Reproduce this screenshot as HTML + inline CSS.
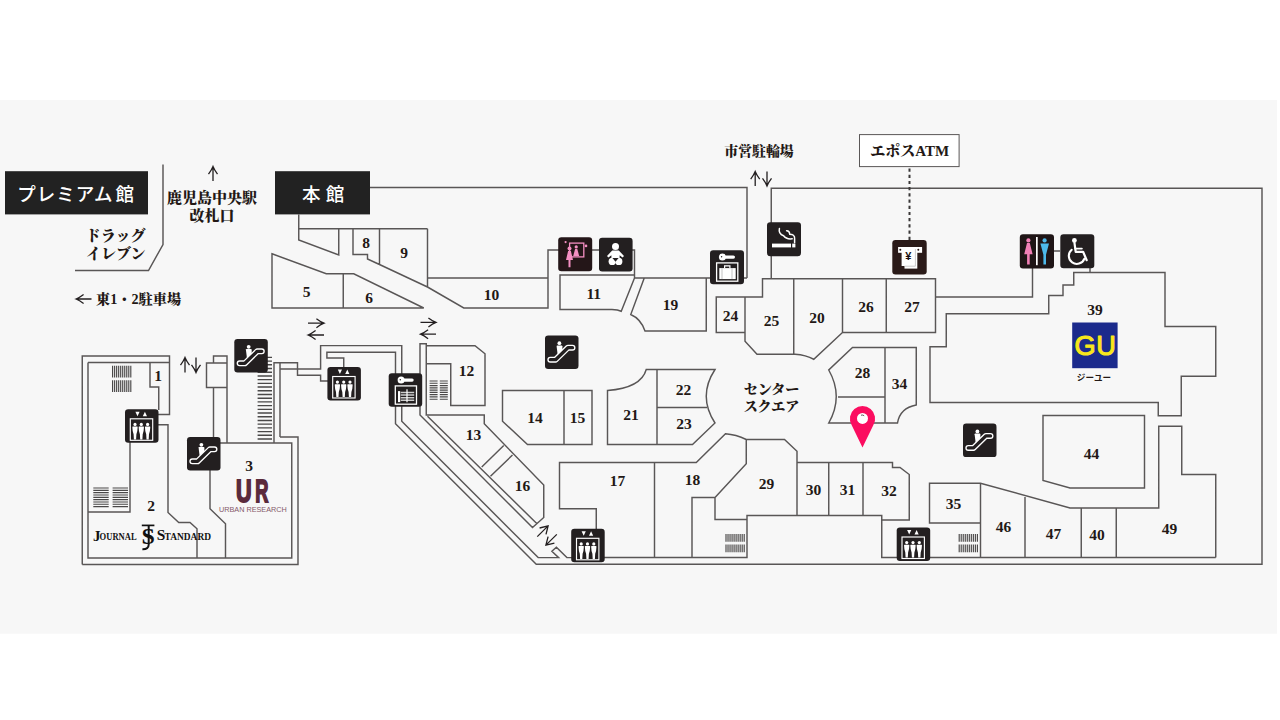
<!DOCTYPE html>
<html lang="ja"><head><meta charset="utf-8"><title>フロアマップ</title>
<style>html,body{margin:0;padding:0;background:#fff}body{width:1280px;height:720px;overflow:hidden;position:relative}</style>
</head><body>
<svg width="1280" height="720" viewBox="0 0 1280 720" style="position:absolute;left:0;top:0">
<rect x="0" y="100" width="1277" height="533.7" fill="#f7f7f7"/>
<path d="M163,164.5 V244.5 L148.5,270.5 H75 M370,187.5 H747 V278 M298.75,214.5 V240 L338.75,255 V228.75 M298.75,228.75 H427.5 M353,228.75 V254.5 H367.5 V259 L379.5,264.5 V228.75 M379.5,264.5 L427.5,287 V228.75 M427.5,278 H548 M427.5,287 L463.75,308 H548 V250 H634.5 V278 H747 M272,253.75 L326.25,273.75 H353.75 L423.75,308 H272 Z M343.25,273.75 V308 M634.5,275 H560 V309.5 H612 Q618,309.7 621.25,311.25 L634.5,278 M644.25,278 L630.75,314.5 Q641,319 645,331 H706.25 V278 M716.25,297 H745 V332.5 H716.25 Z M745,297 H762.5 V278.75 H935.5 V332.5 H842.5 M745,332.5 V341.25 L757,354.25 H795 Q806,355 813.75,359.25 L842.5,332.5 V278.75 M793.75,278.75 V354.5 M886.25,278.75 V332.5 M771.25,278.75 V188.3 H1262 V564.25 H536.25 L395.5,423.75 V352.25 H326.9 V358 H343.75 V368 M935.5,297 H1032.5 V268 M1054,251 H1060 M1090,268 V272.5 M946.25,313.75 H1048.75 V295.5 H1063 V285 H1073.75 V272.5 H1165 V326.5 H1215.75 V376.25 H1181.25 V415.75 H1158.25 V402.5 H930 V346.75 H946.25 Z M852.5,347.5 H916.25 V405 Q900,408 897.5,423 H828.75 Q843.75,396.5 828.75,370 Z M885,347.5 V423 M838,397 H885 M1043,415.5 H1144.5 V488 H1070 L1043,480.5 Z M1215.75,557.5 V474.5 H1181.75 V426.25 H1158.75 V508 H1070 L980.5,483.25 H929.5 V523 H980.5 M980.5,483.25 V557.5 M881.75,520 V557.5 H1215.75 M1025,495.75 V557.5 M1081.25,508 V557.5 M1116.25,508 V557.5 M746.25,439.5 H784.5 L797,451.25 V515.5 M797,462.5 H892.5 V467.5 H900 L909.25,474.5 V520 H881.75 V515.5 H747 V557.5 H604 M828.75,462.5 V515.5 M863,462.5 V515.5 M715,497.5 V519.5 H747 M654.5,557.5 V462.5 H696.25 L725.5,433.75 Q736,434.5 746.25,439.5 V463.75 L715,497.5 H692 V557.5 M654.5,462.5 H559.5 V508.75 H596.25 V530 M646.25,369.5 H715 Q697.5,396.25 715,423 L692.5,444.5 H607.5 V390.5 Q641,388 646.25,369.5 Z M657,369.5 V444.5 M657,407.5 H707 M502.5,390.5 H592 V444.5 H527.5 L502.5,421.25 Z M564,390.5 V444.5 M426.25,345.75 H475 L485,353.75 V405.5 H450.75 V363.75 H426.25 M420,343.75 H426.25 V415 H484.25 V423.75 L543.75,485 V517.5 L532.5,527.5 L420,415 Z M427.5,416.25 L537,523.75 M503.75,445.5 L481.75,467 M512.5,455 L490.5,476.25 M274,443 V362.75 H297.5 V375.25 H320.6 V381 H328 M280,437 V369 H320.6 V345.6 H401.75 V421.25 L538.2,557.6 H558.6 L551.9,551.25 L556.4,547.3 L566.9,557.6 H572 M280,362.75 V369 M82.25,564.5 V356 H169.5 V414.5 H158 M88,362.5 H169.5 M82.25,564.5 H298 V437 H280 M88,362.5 V558 H291.75 V443 H220 M150,362.5 V387 H158.75 V410 M158,424.75 H168 V512.5 L178.75,522.5 H190 L197,528.75 V558 M130,442 V512 H88 M210,470 V508.75 L225.5,523.75 V558 M206.5,363 H227 V387.5 H206.5 Z M213.5,363 V356 H227 V363 M213.5,387.5 V438 M227,387.5 V443" fill="none" stroke="#595656" stroke-width="1.45" stroke-linejoin="miter"/>
<path d="M112.60,365.8 V377.6 M114.62,365.8 V377.6 M116.64,365.8 V377.6 M118.67,365.8 V377.6 M120.69,365.8 V377.6 M122.71,365.8 V377.6 M124.73,365.8 V377.6 M126.76,365.8 V377.6 M128.78,365.8 V377.6 M130.80,365.8 V377.6 M112.60,380.2 V392 M114.62,380.2 V392 M116.64,380.2 V392 M118.67,380.2 V392 M120.69,380.2 V392 M122.71,380.2 V392 M124.73,380.2 V392 M126.76,380.2 V392 M128.78,380.2 V392 M130.80,380.2 V392 M93.3,488.00 H108.7 M93.3,490.32 H108.7 M93.3,492.65 H108.7 M93.3,494.98 H108.7 M93.3,497.30 H108.7 M93.3,499.62 H108.7 M93.3,501.95 H108.7 M93.3,504.28 H108.7 M93.3,506.60 H108.7 M112.6,488.00 H128 M112.6,490.32 H128 M112.6,492.65 H128 M112.6,494.98 H128 M112.6,497.30 H128 M112.6,499.62 H128 M112.6,501.95 H128 M112.6,504.28 H128 M112.6,506.60 H128 M429.6,381.00 H437.6 M429.6,383.27 H437.6 M429.6,385.55 H437.6 M429.6,387.82 H437.6 M429.6,390.10 H437.6 M429.6,392.38 H437.6 M429.6,394.65 H437.6 M429.6,396.93 H437.6 M429.6,399.20 H437.6 M439.8,381.00 H447.8 M439.8,383.27 H447.8 M439.8,385.55 H447.8 M439.8,387.82 H447.8 M439.8,390.10 H447.8 M439.8,392.38 H447.8 M439.8,394.65 H447.8 M439.8,396.93 H447.8 M439.8,399.20 H447.8 M726.00,534 V541.8 M728.02,534 V541.8 M730.04,534 V541.8 M732.07,534 V541.8 M734.09,534 V541.8 M736.11,534 V541.8 M738.13,534 V541.8 M740.16,534 V541.8 M742.18,534 V541.8 M744.20,534 V541.8 M726.00,544.4 V552.2 M728.02,544.4 V552.2 M730.04,544.4 V552.2 M732.07,544.4 V552.2 M734.09,544.4 V552.2 M736.11,544.4 V552.2 M738.13,544.4 V552.2 M740.16,544.4 V552.2 M742.18,544.4 V552.2 M744.20,544.4 V552.2 M959.20,534 V541.8 M961.22,534 V541.8 M963.24,534 V541.8 M965.27,534 V541.8 M967.29,534 V541.8 M969.31,534 V541.8 M971.33,534 V541.8 M973.36,534 V541.8 M975.38,534 V541.8 M977.40,534 V541.8 M959.20,544.4 V552.2 M961.22,544.4 V552.2 M963.24,544.4 V552.2 M965.27,544.4 V552.2 M967.29,544.4 V552.2 M969.31,544.4 V552.2 M971.33,544.4 V552.2 M973.36,544.4 V552.2 M975.38,544.4 V552.2 M977.40,544.4 V552.2" fill="none" stroke="#4a4848" stroke-width="1.15"/>
<path d="M257.6,357.40 H272 M257.6,361.11 H272 M257.6,364.82 H272 M257.6,368.53 H272 M257.6,372.24 H272 M257.6,375.95 H272 M257.6,379.65 H272 M257.6,383.36 H272 M257.6,387.07 H272 M257.6,390.78 H272 M257.6,394.49 H272 M257.6,398.20 H272 M257.6,401.91 H272 M257.6,405.62 H272 M257.6,409.33 H272 M257.6,413.04 H272 M257.6,416.75 H272 M257.6,420.45 H272 M257.6,424.16 H272 M257.6,427.87 H272 M257.6,431.58 H272 M257.6,435.29 H272 M257.6,439.00 H272" fill="none" stroke="#4a4848" stroke-width="1.4"/>
<path d="M909.5,168.5 V240" stroke="#3a3838" stroke-width="2" stroke-dasharray="3.2,3" fill="none"/>
<rect x="859.5" y="134.6" width="99.6" height="32" fill="#fff" stroke="#5a5757" stroke-width="1"/>
<g fill="none" stroke="#231f20" stroke-width="1.3"><path d="M213,181 V166.5 M208.5,174.1 Q211.65,169.92 213,166.5 Q214.35,169.92 217.5,174.1" /><path d="M91.5,299 H76 M83.6,294.5 Q79.42,297.65 76,299 Q79.42,300.35 83.6,303.5" /><path d="M755.2,186 V171.5 M750.7,179.1 Q753.85,174.92 755.2,171.5 Q756.5500000000001,174.92 759.7,179.1" /><path d="M767,171.5 V186 M762.5,178.4 Q765.65,182.58 767,186 Q768.35,182.58 771.5,178.4" /><path d="M185,372.5 V357.5 M180.5,365.1 Q183.65,360.92 185,357.5 Q186.35,360.92 189.5,365.1" /><path d="M196,357.5 V372.5 M191.5,364.9 Q194.65,369.08 196,372.5 Q197.35,369.08 200.5,364.9" /><path d="M308,323.2 H324 M316.4,318.7 Q320.58,321.84999999999997 324,323.2 Q320.58,324.55 316.4,327.7" /><path d="M324,335 H308 M315.6,330.5 Q311.42,333.65 308,335 Q311.42,336.35 315.6,339.5" /><path d="M420.5,322.4 H436 M428.4,317.9 Q432.58,321.04999999999995 436,322.4 Q432.58,323.75 428.4,326.9" /><path d="M436,334.2 H420.5 M428.1,329.7 Q423.92,332.84999999999997 420.5,334.2 Q423.92,335.55 428.1,338.7" /><path d="M537.3,536.6 L548.1,525.9 M546.0,534.3 L548.1,525.9 L539.6,528.0"/><path d="M556.8,534.4 L545.9,545.1 M548.1,536.7 L545.9,545.1 L554.4,543.1"/></g>
<g transform="translate(234.3,339)"><rect width="33.5" height="33.5" rx="3.2" fill="#231f20"/><circle cx="14.4" cy="7.8" r="1.9" fill="#fff"/><path d="M11.6,10.6 Q11.6,10 12.3,10 H16.6 Q17.4,10 17.4,10.8 V14.6 L12.6,19 Z" fill="#fff"/><path d="M5.3,24.3 H10.6 L22.9,12.3 H27.5" fill="none" stroke="#fff" stroke-width="6" stroke-linecap="round" stroke-linejoin="round"/><path d="M5.3,24.3 H10.6 L22.9,12.3 H27.5" fill="none" stroke="#231f20" stroke-width="3.3" stroke-linecap="round" stroke-linejoin="round"/></g>
<g transform="translate(187,437)"><rect width="33.5" height="33.5" rx="3.2" fill="#231f20"/><circle cx="14.4" cy="7.8" r="1.9" fill="#fff"/><path d="M11.6,10.6 Q11.6,10 12.3,10 H16.6 Q17.4,10 17.4,10.8 V14.6 L12.6,19 Z" fill="#fff"/><path d="M5.3,24.3 H10.6 L22.9,12.3 H27.5" fill="none" stroke="#fff" stroke-width="6" stroke-linecap="round" stroke-linejoin="round"/><path d="M5.3,24.3 H10.6 L22.9,12.3 H27.5" fill="none" stroke="#231f20" stroke-width="3.3" stroke-linecap="round" stroke-linejoin="round"/></g>
<g transform="translate(545,335.4)"><rect width="33.5" height="33.5" rx="3.2" fill="#231f20"/><circle cx="14.4" cy="7.8" r="1.9" fill="#fff"/><path d="M11.6,10.6 Q11.6,10 12.3,10 H16.6 Q17.4,10 17.4,10.8 V14.6 L12.6,19 Z" fill="#fff"/><path d="M5.3,24.3 H10.6 L22.9,12.3 H27.5" fill="none" stroke="#fff" stroke-width="6" stroke-linecap="round" stroke-linejoin="round"/><path d="M5.3,24.3 H10.6 L22.9,12.3 H27.5" fill="none" stroke="#231f20" stroke-width="3.3" stroke-linecap="round" stroke-linejoin="round"/></g>
<g transform="translate(963,423.6)"><rect width="33.5" height="33.5" rx="3.2" fill="#231f20"/><circle cx="14.4" cy="7.8" r="1.9" fill="#fff"/><path d="M11.6,10.6 Q11.6,10 12.3,10 H16.6 Q17.4,10 17.4,10.8 V14.6 L12.6,19 Z" fill="#fff"/><path d="M5.3,24.3 H10.6 L22.9,12.3 H27.5" fill="none" stroke="#fff" stroke-width="6" stroke-linecap="round" stroke-linejoin="round"/><path d="M5.3,24.3 H10.6 L22.9,12.3 H27.5" fill="none" stroke="#231f20" stroke-width="3.3" stroke-linecap="round" stroke-linejoin="round"/></g>
<g transform="translate(125,409.2)"><rect width="33.5" height="33.5" rx="3.2" fill="#231f20"/><path d="M10.4,2.6 H14.6 L12.5,7 Z M17.8,7 H22 L19.9,2.6 Z" fill="#fff"/><rect x="5.3" y="9.6" width="22.4" height="21.5" fill="none" stroke="#fff" stroke-width="1.15"/><circle cx="10" cy="15.2" r="1.6" fill="#fff"/><path d="M7.9,17.4 H12.1 Q12.9,17.4 12.6,18.6 Q12.6,22 11.4,25 L11.1,30.2 H8.9 L8.6,25 Q7.4,22 7.4,18.6 Q7.1,17.4 7.9,17.4 Z" fill="#fff"/><circle cx="16.3" cy="15.2" r="1.6" fill="#fff"/><path d="M14.200000000000001,17.4 H18.400000000000002 Q19.2,17.4 18.900000000000002,18.6 Q18.900000000000002,22 17.7,25 L17.400000000000002,30.2 H15.200000000000001 L14.9,25 Q13.700000000000001,22 13.700000000000001,18.6 Q13.4,17.4 14.200000000000001,17.4 Z" fill="#fff"/><circle cx="22.6" cy="15.2" r="1.6" fill="#fff"/><path d="M20.5,17.4 H24.700000000000003 Q25.5,17.4 25.200000000000003,18.6 Q25.200000000000003,22 24.0,25 L23.700000000000003,30.2 H21.5 L21.200000000000003,25 Q20.0,22 20.0,18.6 Q19.700000000000003,17.4 20.5,17.4 Z" fill="#fff"/></g>
<g transform="translate(327.4,366.9)"><rect width="33.5" height="33.5" rx="3.2" fill="#231f20"/><path d="M10.4,2.6 H14.6 L12.5,7 Z M17.8,7 H22 L19.9,2.6 Z" fill="#fff"/><rect x="5.3" y="9.6" width="22.4" height="21.5" fill="none" stroke="#fff" stroke-width="1.15"/><circle cx="10" cy="15.2" r="1.6" fill="#fff"/><path d="M7.9,17.4 H12.1 Q12.9,17.4 12.6,18.6 Q12.6,22 11.4,25 L11.1,30.2 H8.9 L8.6,25 Q7.4,22 7.4,18.6 Q7.1,17.4 7.9,17.4 Z" fill="#fff"/><circle cx="16.3" cy="15.2" r="1.6" fill="#fff"/><path d="M14.200000000000001,17.4 H18.400000000000002 Q19.2,17.4 18.900000000000002,18.6 Q18.900000000000002,22 17.7,25 L17.400000000000002,30.2 H15.200000000000001 L14.9,25 Q13.700000000000001,22 13.700000000000001,18.6 Q13.4,17.4 14.200000000000001,17.4 Z" fill="#fff"/><circle cx="22.6" cy="15.2" r="1.6" fill="#fff"/><path d="M20.5,17.4 H24.700000000000003 Q25.5,17.4 25.200000000000003,18.6 Q25.200000000000003,22 24.0,25 L23.700000000000003,30.2 H21.5 L21.200000000000003,25 Q20.0,22 20.0,18.6 Q19.700000000000003,17.4 20.5,17.4 Z" fill="#fff"/></g>
<g transform="translate(571.2,528.7)"><rect width="33.5" height="33.5" rx="3.2" fill="#231f20"/><path d="M10.4,2.6 H14.6 L12.5,7 Z M17.8,7 H22 L19.9,2.6 Z" fill="#fff"/><rect x="5.3" y="9.6" width="22.4" height="21.5" fill="none" stroke="#fff" stroke-width="1.15"/><circle cx="10" cy="15.2" r="1.6" fill="#fff"/><path d="M7.9,17.4 H12.1 Q12.9,17.4 12.6,18.6 Q12.6,22 11.4,25 L11.1,30.2 H8.9 L8.6,25 Q7.4,22 7.4,18.6 Q7.1,17.4 7.9,17.4 Z" fill="#fff"/><circle cx="16.3" cy="15.2" r="1.6" fill="#fff"/><path d="M14.200000000000001,17.4 H18.400000000000002 Q19.2,17.4 18.900000000000002,18.6 Q18.900000000000002,22 17.7,25 L17.400000000000002,30.2 H15.200000000000001 L14.9,25 Q13.700000000000001,22 13.700000000000001,18.6 Q13.4,17.4 14.200000000000001,17.4 Z" fill="#fff"/><circle cx="22.6" cy="15.2" r="1.6" fill="#fff"/><path d="M20.5,17.4 H24.700000000000003 Q25.5,17.4 25.200000000000003,18.6 Q25.200000000000003,22 24.0,25 L23.700000000000003,30.2 H21.5 L21.200000000000003,25 Q20.0,22 20.0,18.6 Q19.700000000000003,17.4 20.5,17.4 Z" fill="#fff"/></g>
<g transform="translate(896.7,527.4)"><rect width="33.5" height="33.5" rx="3.2" fill="#231f20"/><path d="M10.4,2.6 H14.6 L12.5,7 Z M17.8,7 H22 L19.9,2.6 Z" fill="#fff"/><rect x="5.3" y="9.6" width="22.4" height="21.5" fill="none" stroke="#fff" stroke-width="1.15"/><circle cx="10" cy="15.2" r="1.6" fill="#fff"/><path d="M7.9,17.4 H12.1 Q12.9,17.4 12.6,18.6 Q12.6,22 11.4,25 L11.1,30.2 H8.9 L8.6,25 Q7.4,22 7.4,18.6 Q7.1,17.4 7.9,17.4 Z" fill="#fff"/><circle cx="16.3" cy="15.2" r="1.6" fill="#fff"/><path d="M14.200000000000001,17.4 H18.400000000000002 Q19.2,17.4 18.900000000000002,18.6 Q18.900000000000002,22 17.7,25 L17.400000000000002,30.2 H15.200000000000001 L14.9,25 Q13.700000000000001,22 13.700000000000001,18.6 Q13.4,17.4 14.200000000000001,17.4 Z" fill="#fff"/><circle cx="22.6" cy="15.2" r="1.6" fill="#fff"/><path d="M20.5,17.4 H24.700000000000003 Q25.5,17.4 25.200000000000003,18.6 Q25.200000000000003,22 24.0,25 L23.700000000000003,30.2 H21.5 L21.200000000000003,25 Q20.0,22 20.0,18.6 Q19.700000000000003,17.4 20.5,17.4 Z" fill="#fff"/></g>
<g transform="translate(388.7,373.3)"><rect width="33.5" height="33.5" rx="3.2" fill="#231f20"/><circle cx="12.4" cy="6.8" r="3.5" fill="#fff"/><rect x="14" y="5.2" width="11" height="3.2" rx="1.6" fill="#fff"/><circle cx="11.6" cy="6.4" r="0.7" fill="#231f20"/><rect x="6.6" y="12.6" width="21.2" height="18.3" fill="none" stroke="#fff" stroke-width="1.3"/><rect x="9.3" y="17.8" width="2.2" height="11" fill="#fff"/><path d="M12,19.2 H25.5 M12,21.8 H25.5 M12,24.4 H25.5 M12,27 H25.5" stroke="#ccc" stroke-width="1.5"/><path d="M18.3,16 V29" stroke="#fff" stroke-width="1.2"/></g>
<g transform="translate(710,250.3)"><rect width="34" height="34" rx="3.2" fill="#231f20"/><circle cx="12.4" cy="6.8" r="3.5" fill="#fff"/><rect x="14" y="5.2" width="11" height="3.2" rx="1.6" fill="#fff"/><circle cx="11.6" cy="6.4" r="0.7" fill="#231f20"/><rect x="6.6" y="12.6" width="21.2" height="18.3" fill="none" stroke="#fff" stroke-width="1.3"/><rect x="9.3" y="17.8" width="16.4" height="11" fill="#fff"/><path d="M14.6,17.8 V15.6 H19.9 V17.8" fill="none" stroke="#fff" stroke-width="1.2"/><path d="M12,17.8 V28.8 M22,17.8 V28.8" stroke="#aaa" stroke-width="0.7"/></g>
<g transform="translate(767,222.2)"><rect width="34" height="34" rx="3.2" fill="#231f20"/><rect x="5" y="21.4" width="19" height="3.8" fill="#fff"/><rect x="25.2" y="21.4" width="3.2" height="3.8" fill="#fff"/><path d="M12.4,6.4 C11.6,10 14,12.6 16.6,13.6 C18.6,16.4 22,17 25.2,16.6" fill="none" stroke="#fff" stroke-width="1.5" stroke-linecap="round"/><path d="M19.6,8.6 C22,8.4 22.6,10.6 22.8,12 C25.6,12 28,13.4 27.6,16.4 V20.6" fill="none" stroke="#fff" stroke-width="1.5" stroke-linecap="round"/></g>
<g transform="translate(892.3,240)"><rect width="34.4" height="34.4" rx="3.2" fill="#2a1a18"/><rect x="5.8" y="7" width="24" height="5.8" fill="#fff"/><rect x="12.2" y="12" width="12.8" height="16.6" fill="#fff"/><rect x="9.3" y="7" width="13.6" height="19" fill="#fff"/><path d="M23.1,9 V26.2 H12.2" fill="none" stroke="#aaa" stroke-width="0.6"/><circle cx="8" cy="9.8" r="1" fill="#2a1a18"/><circle cx="26" cy="9.8" r="1" fill="#2a1a18"/><text x="16.1" y="20.4" font-family="'Liberation Sans',sans-serif" font-weight="700" font-size="11" text-anchor="middle" fill="#1a1010">¥</text></g>
<g transform="translate(1019.8,234.2)"><rect width="34.2" height="34.2" rx="3.2" fill="#1f1516"/><circle cx="8.6" cy="6.2" r="2.1" fill="#f27fb6"/><path d="M7.2,8.8 H10 L12.8,20 H9.9 V30.2 H7.3 V20 H4.4 Z" fill="#f27fb6"/><rect x="16.2" y="2.8" width="1.7" height="28.2" fill="#fff"/><circle cx="24.8" cy="6.2" r="2.1" fill="#4db9ea"/><path d="M20.6,9.4 H29.2 L26.2,20.6 V30.2 H23.6 V20.6 Z" fill="#4db9ea"/></g>
<g transform="translate(1060.3,234.2)"><rect width="34" height="34" rx="3.2" fill="#231f20"/><circle cx="14.1" cy="6.3" r="2.4" fill="#fff"/><path d="M14.2,9 L15.4,17.6 H22.8 L26.4,26" fill="none" stroke="#fff" stroke-width="2.2" stroke-linejoin="round" stroke-linecap="round"/><path d="M15,14.4 H21.6" stroke="#fff" stroke-width="1.8" stroke-linecap="round"/><path d="M11.4,15.6 A8,8 0 1 0 24,24.6" fill="none" stroke="#fff" stroke-width="2.1" stroke-linecap="round"/></g>
<g transform="translate(558.2,237.3)"><rect width="34" height="34" rx="3.2" fill="#241618"/><rect x="11.4" y="5.8" width="14.2" height="13.8" fill="none" stroke="#f48fc2" stroke-width="1.3"/><circle cx="18" cy="9.6" r="1.6" fill="#f48fc2"/><path d="M16.9,11.6 H19.1 L21,18.8 H15 Z" fill="#f48fc2"/><rect x="8" y="6" width="7" height="18" fill="#241618" opacity="0"/><circle cx="11.3" cy="11.3" r="2" fill="#f48fc2"/><path d="M9.9,13.7 H12.7 L14.8,22.8 H12.3 V30 H10.3 V22.8 H7.8 Z" fill="#f48fc2"/><circle cx="7.4" cy="4.8" r="1.1" fill="#f48fc2"/><circle cx="27.8" cy="8.6" r="1.3" fill="#f48fc2"/></g>
<g transform="translate(599,237.8)"><rect width="33.6" height="33.6" rx="3.2" fill="#231f20"/><circle cx="16.5" cy="8.6" r="3.5" fill="#fff"/><path d="M13.2,12.8 H19.8 L25,18.2 L23.6,19.6 L20.6,17.4 V20.4 H12.4 V17.4 L9.4,19.6 L8,18.2 Z" fill="#fff"/><circle cx="13.2" cy="23.6" r="3.6" fill="#fff"/><circle cx="19.8" cy="23.6" r="3.6" fill="#fff"/><path d="M13.4,20.2 H19.6 L16.5,24 Z" fill="#231f20"/></g>
<path d="M862.5,447.4 L851.6,425 A12.6,12.6 0 1 1 873.4,425 Z" fill="#fb0d60"/><circle cx="862.5" cy="418.4" r="5.5" fill="#fff"/><path d="M861,415.2 q2,-0.6 3.2,0.6" stroke="#333" stroke-width="0.8" fill="none"/>
<rect x="1072.2" y="322.5" width="45.4" height="45.7" fill="#1b2a8c"/><text x="1074.6" y="355.4" font-family="'Liberation Sans',sans-serif" font-weight="400" font-size="27.2" fill="#f8e71c" stroke="#f8e71c" stroke-width="1.1" stroke-linejoin="round" letter-spacing="0.4">GU</text>
<text x="1094" y="380.8" font-family="'Liberation Sans','Noto Sans CJK JP',sans-serif" font-weight="700" font-size="8.6" text-anchor="middle" fill="#231815">ジーユー</text>
<rect x="5" y="171.2" width="143" height="43.2" fill="#222"/><text x="17.2" y="201.2" font-family="'Liberation Sans','Noto Sans CJK JP',sans-serif" font-weight="500" font-size="18.5" fill="#fff" letter-spacing="1">プレミアム<tspan dx="2.2">館</tspan></text>
<rect x="275" y="171.2" width="95" height="43.2" fill="#222"/><text x="302" y="201.2" font-family="'Liberation Sans','Noto Sans CJK JP',sans-serif" font-weight="500" font-size="18.5" fill="#fff">本<tspan dx="5.3">館</tspan></text>
<text x="115.7" y="240.6" font-family="'Liberation Serif','Noto Serif CJK SC',serif" font-weight="900" fill="#231815" font-size="15" text-anchor="middle" >ドラッグ</text>
<text x="115.7" y="258.8" font-family="'Liberation Serif','Noto Serif CJK SC',serif" font-weight="900" fill="#231815" font-size="15" text-anchor="middle" >イレブン</text>
<text x="212" y="202.6" font-family="'Liberation Serif','Noto Serif CJK SC',serif" font-weight="900" fill="#231815" font-size="15" text-anchor="middle" >鹿児島中央駅</text>
<text x="212" y="221.2" font-family="'Liberation Serif','Noto Serif CJK SC',serif" font-weight="900" fill="#231815" font-size="15" text-anchor="middle" >改札口</text>
<text x="96" y="304" font-family="'Liberation Serif','Noto Serif CJK SC',serif" font-weight="900" fill="#231815" font-size="14.2" text-anchor="start" >東1・2駐車場</text>
<text x="759" y="155.6" font-family="'Liberation Serif','Noto Serif CJK SC',serif" font-weight="900" fill="#231815" font-size="13.9" text-anchor="middle" >市営駐輪場</text>
<text x="909.8" y="156.2" font-family="'Liberation Serif','Noto Serif CJK SC',serif" font-weight="900" fill="#231815" font-size="15" text-anchor="middle" >エポスATM</text>
<text x="771.5" y="394" font-family="'Liberation Serif','Noto Serif CJK SC',serif" font-weight="900" fill="#231815" font-size="14" text-anchor="middle" >センター</text>
<text x="771.5" y="410.6" font-family="'Liberation Serif','Noto Serif CJK SC',serif" font-weight="900" fill="#231815" font-size="14" text-anchor="middle" >スクエア</text>
<text x="158" y="380.7" font-family="'Liberation Serif',serif" font-weight="700" font-size="15.5" text-anchor="middle" fill="#231815">1</text>
<text x="151" y="510.7" font-family="'Liberation Serif',serif" font-weight="700" font-size="15.5" text-anchor="middle" fill="#231815">2</text>
<text x="249" y="471.2" font-family="'Liberation Serif',serif" font-weight="700" font-size="15.5" text-anchor="middle" fill="#231815">3</text>
<text x="306.5" y="297.2" font-family="'Liberation Serif',serif" font-weight="700" font-size="15.5" text-anchor="middle" fill="#231815">5</text>
<text x="369" y="302.7" font-family="'Liberation Serif',serif" font-weight="700" font-size="15.5" text-anchor="middle" fill="#231815">6</text>
<text x="366" y="248.2" font-family="'Liberation Serif',serif" font-weight="700" font-size="15.5" text-anchor="middle" fill="#231815">8</text>
<text x="404" y="257.7" font-family="'Liberation Serif',serif" font-weight="700" font-size="15.5" text-anchor="middle" fill="#231815">9</text>
<text x="491.5" y="300.2" font-family="'Liberation Serif',serif" font-weight="700" font-size="15.5" text-anchor="middle" fill="#231815">10</text>
<text x="593.75" y="299.2" font-family="'Liberation Serif',serif" font-weight="700" font-size="15.5" text-anchor="middle" fill="#231815">11</text>
<text x="670.5" y="310.2" font-family="'Liberation Serif',serif" font-weight="700" font-size="15.5" text-anchor="middle" fill="#231815">19</text>
<text x="730.5" y="321.2" font-family="'Liberation Serif',serif" font-weight="700" font-size="15.5" text-anchor="middle" fill="#231815">24</text>
<text x="771.5" y="326.2" font-family="'Liberation Serif',serif" font-weight="700" font-size="15.5" text-anchor="middle" fill="#231815">25</text>
<text x="817" y="323.2" font-family="'Liberation Serif',serif" font-weight="700" font-size="15.5" text-anchor="middle" fill="#231815">20</text>
<text x="683.5" y="395.2" font-family="'Liberation Serif',serif" font-weight="700" font-size="15.5" text-anchor="middle" fill="#231815">22</text>
<text x="631" y="420.2" font-family="'Liberation Serif',serif" font-weight="700" font-size="15.5" text-anchor="middle" fill="#231815">21</text>
<text x="684" y="428.7" font-family="'Liberation Serif',serif" font-weight="700" font-size="15.5" text-anchor="middle" fill="#231815">23</text>
<text x="535" y="422.7" font-family="'Liberation Serif',serif" font-weight="700" font-size="15.5" text-anchor="middle" fill="#231815">14</text>
<text x="577.5" y="423.2" font-family="'Liberation Serif',serif" font-weight="700" font-size="15.5" text-anchor="middle" fill="#231815">15</text>
<text x="466.5" y="375.7" font-family="'Liberation Serif',serif" font-weight="700" font-size="15.5" text-anchor="middle" fill="#231815">12</text>
<text x="473.5" y="440.2" font-family="'Liberation Serif',serif" font-weight="700" font-size="15.5" text-anchor="middle" fill="#231815">13</text>
<text x="522.5" y="490.7" font-family="'Liberation Serif',serif" font-weight="700" font-size="15.5" text-anchor="middle" fill="#231815">16</text>
<text x="617.5" y="486.2" font-family="'Liberation Serif',serif" font-weight="700" font-size="15.5" text-anchor="middle" fill="#231815">17</text>
<text x="692.5" y="485.2" font-family="'Liberation Serif',serif" font-weight="700" font-size="15.5" text-anchor="middle" fill="#231815">18</text>
<text x="766.5" y="489.2" font-family="'Liberation Serif',serif" font-weight="700" font-size="15.5" text-anchor="middle" fill="#231815">29</text>
<text x="813.5" y="494.7" font-family="'Liberation Serif',serif" font-weight="700" font-size="15.5" text-anchor="middle" fill="#231815">30</text>
<text x="847.5" y="494.7" font-family="'Liberation Serif',serif" font-weight="700" font-size="15.5" text-anchor="middle" fill="#231815">31</text>
<text x="889" y="496.2" font-family="'Liberation Serif',serif" font-weight="700" font-size="15.5" text-anchor="middle" fill="#231815">32</text>
<text x="953.5" y="508.7" font-family="'Liberation Serif',serif" font-weight="700" font-size="15.5" text-anchor="middle" fill="#231815">35</text>
<text x="1003.5" y="531.7" font-family="'Liberation Serif',serif" font-weight="700" font-size="15.5" text-anchor="middle" fill="#231815">46</text>
<text x="1053.5" y="538.7" font-family="'Liberation Serif',serif" font-weight="700" font-size="15.5" text-anchor="middle" fill="#231815">47</text>
<text x="1097" y="540.2" font-family="'Liberation Serif',serif" font-weight="700" font-size="15.5" text-anchor="middle" fill="#231815">40</text>
<text x="1169.5" y="534.2" font-family="'Liberation Serif',serif" font-weight="700" font-size="15.5" text-anchor="middle" fill="#231815">49</text>
<text x="1091.5" y="458.7" font-family="'Liberation Serif',serif" font-weight="700" font-size="15.5" text-anchor="middle" fill="#231815">44</text>
<text x="866" y="311.7" font-family="'Liberation Serif',serif" font-weight="700" font-size="15.5" text-anchor="middle" fill="#231815">26</text>
<text x="912" y="311.7" font-family="'Liberation Serif',serif" font-weight="700" font-size="15.5" text-anchor="middle" fill="#231815">27</text>
<text x="862.5" y="378.2" font-family="'Liberation Serif',serif" font-weight="700" font-size="15.5" text-anchor="middle" fill="#231815">28</text>
<text x="899.5" y="389.2" font-family="'Liberation Serif',serif" font-weight="700" font-size="15.5" text-anchor="middle" fill="#231815">34</text>
<text x="1095" y="314.9" font-family="'Liberation Serif',serif" font-weight="700" font-size="15.5" text-anchor="middle" fill="#231815">39</text>
<g font-family="'Liberation Serif',serif" font-weight="700" fill="#111"><text x="93" y="541.2" font-size="15">J</text><text x="99.6" y="539.9" font-size="10.6" textLength="37" lengthAdjust="spacingAndGlyphs">OURNAL</text><text x="141.6" y="544" font-size="22.5" textLength="13.4" lengthAdjust="spacingAndGlyphs">S</text><path d="M148.7,525.4 V544.6 Q148.7,549.4 142.4,549.2" fill="none" stroke="#111" stroke-width="2"/><path d="M141.8,525.4 H154.4" fill="none" stroke="#111" stroke-width="1.7"/><text x="156.8" y="540.4" font-size="15.4">S</text><text x="164.6" y="539.9" font-size="10.6" textLength="46.4" lengthAdjust="spacingAndGlyphs">TANDARD</text></g>
<g font-family="'Liberation Sans',sans-serif" font-weight="700" font-size="31.5" fill="#5a2a3c" stroke="#5a2a3c" stroke-width="1.9" stroke-linejoin="miter"><text transform="translate(236,502) scale(0.688,1)">U</text><text transform="translate(255.2,502) scale(0.578,1)">R</text></g>
<text x="219" y="511.8" font-family="'Liberation Sans',sans-serif" font-size="7.4" fill="#85586a" textLength="67.8" lengthAdjust="spacingAndGlyphs">URBAN RESEARCH</text>
</svg>
</body></html>
